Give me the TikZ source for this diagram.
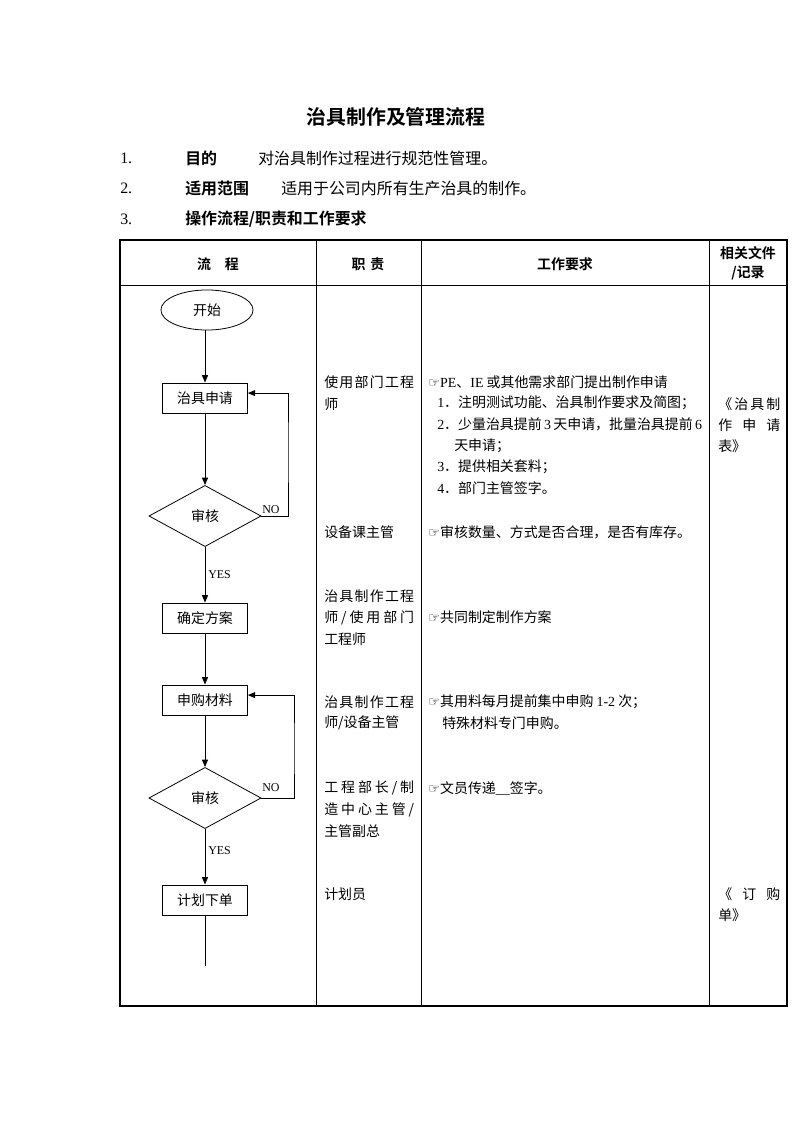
\documentclass[tikz,border=0pt]{standalone}
\usepackage{fontspec}
\setmainfont{Noto Sans CJK SC}[BoldFont={Noto Sans CJK SC Bold}]
\newfontfamily\lat{Liberation Serif}
\newfontfamily\sym{DejaVu Sans}
\usetikzlibrary{arrows.meta,shapes.geometric,positioning}

\newcommand\hand{{\sym\fontsize{10pt}{10pt}\selectfont ☞}}
\newcommand\fillto[2]{\makebox[#1][s]{#2}}

\begin{document}
\begin{tikzpicture}[x=0.2648mm,y=-0.2648mm,
    font=\fontsize{10.5pt}{13pt}\selectfont,
    txt/.style={anchor=west,inner sep=0pt},
    head/.style={inner sep=0pt,font=\fontsize{10.5pt}{13pt}\selectfont\bfseries},
    yesno/.style={anchor=west,inner sep=0pt,font=\lat\fontsize{9pt}{10pt}\selectfont},
    flow/.style={-{Triangle[length=5.5pt,width=4.5pt]}}]
  \useasboundingbox (0,0) rectangle (793,1122);

  % title and items
  \node[inner sep=0pt,font=\fontsize{15pt}{17pt}\selectfont\bfseries] (title) at (396,117) {治具制作及管理流程};
  \begin{scope}[every node/.style={txt,font=\fontsize{12pt}{14pt}\selectfont}]
    \node (n1) at (120,158) {\lat 1.};
    \node (k1) at (185,158) {\bfseries 目的};
    \node (t1) at (258,158) {对治具制作过程进行规范性管理。};
    \node (n2) at (120,188) {\lat 2.};
    \node (k2) at (185,188) {\bfseries 适用范围};
    \node (t2) at (281,188) {适用于公司内所有生产治具的制作。};
    \node (n3) at (120,219) {\lat 3.};
    \node (k3) at (185,219) {\bfseries 操作流程/职责和工作要求};
  \end{scope}

  % table
  \draw[line width=0.8pt] (120,240) rectangle (787,1006);
  \draw[line width=0.6pt] (120,285) -- (787,285);
  \foreach \x in {316,421,709}
    \draw[line width=0.6pt] (\x,240) -- (\x,1006);

  \node[head] (h1) at (218,264) {流\quad 程};
  \node[head] (h2) at (368,264) {职\,\,责};
  \node[head] (h3) at (565,264) {工作要求};
  \node[head] (h4) at (748,253) {相关文件};
  \node[head] (h5) at (748,273) {/记录};

  % flow chart
  \begin{scope}[every node/.style={draw,line width=0.6pt}]
    \node (start)[ellipse,minimum width=24.4mm,minimum height=10.6mm] at (207,310) {开始};
    \node (apply)[minimum width=22.5mm,minimum height=8mm] at (205,398) {治具申请};
    \node (check1)[diamond,minimum width=29.7mm,minimum height=16.2mm,inner sep=0pt] at (205,516) {审核};
    \node (plan)[minimum width=22.5mm,minimum height=8mm] at (205,618) {确定方案};
    \node (buy)[minimum width=22.5mm,minimum height=8mm] at (205,700) {申购材料};
    \node (check2)[diamond,minimum width=29.7mm,minimum height=16.2mm,inner sep=0pt] at (205,798) {审核};
    \node (order)[minimum width=22.5mm,minimum height=8mm] at (205,900) {计划下单};
  \end{scope}
  \coordinate (loop1) at (288,450);
  \coordinate (loop2) at (294,750);
  \coordinate (tail) at (205,966);

  \begin{scope}[line width=0.6pt]
    \draw[flow] (start.south -| apply.north) -- (apply);
    \draw[flow] (apply) -- (check1);
    \draw[flow] (check1) -- (plan);
    \draw[flow] (check1.east) -| (loop1) |- ([yshift=1.3mm]apply.east);
    \draw[flow] (plan) -- (buy);
    \draw[flow] (buy) -- (check2);
    \draw[flow] (check2) -- (order);
    \draw[flow] (check2.east) -| (loop2) |- ([yshift=1.3mm]buy.east);
    \draw (order) -- (tail);
  \end{scope}
  \node[yesno] (no1) at (262,510) {NO};
  \node[yesno] (yes1) at (208,575) {YES};
  \node[yesno] (no2) at (262,788) {NO};
  \node[yesno] (yes2) at (208,851) {YES};

  % duties
  \node[txt] (r1a) at (324,382) {\fillto{23.8mm}{使\hfill 用\hfill 部\hfill 门\hfill 工\hfill 程}};
  \node[txt] (r1b) at (324,404) {师};
  \node[txt] (r2) at (324,532) {设备课主管};
  \node[txt] (r3a) at (324,596) {\fillto{23.8mm}{治\hfill 具\hfill 制\hfill 作\hfill 工\hfill 程}};
  \node[txt] (r3b) at (324,618) {\fillto{23.8mm}{师\hfill /\hfill 使\hfill 用\hfill 部\hfill 门}};
  \node[txt] (r3c) at (324,639) {工程师};
  \node[txt] (r4a) at (324,702) {\fillto{23.8mm}{治\hfill 具\hfill 制\hfill 作\hfill 工\hfill 程}};
  \node[txt] (r4b) at (324,723) {师/设备主管};
  \node[txt] (r5a) at (324,788) {\fillto{23.8mm}{工\hfill 程\hfill 部\hfill 长\hfill /\hfill 制}};
  \node[txt] (r5b) at (324,810) {\fillto{23.8mm}{造\hfill 中\hfill 心\hfill 主\hfill 管\hfill /}};
  \node[txt] (r5c) at (324,831) {主管副总};
  \node[txt] (r6) at (324,894) {计划员};

  % work requirements
  \node[txt] (w1) at (428,382) {\hand{\lat PE}、{\lat IE} 或其他需求部门提出制作申请};
  \node[txt] (w1a) at (437,403) {{\lat 1}．注明测试功能、治具制作要求及简图；};
  \node[txt] (w1b) at (437,424) {{\lat 2}．少量治具提前\,{\lat 3}\,天申请，批量治具提前\,{\lat 6}};
  \node[txt] (w1c) at (454,446) {天申请；};
  \node[txt] (w1d) at (437,467) {{\lat 3}．提供相关套料；};
  \node[txt] (w1e) at (437,488) {{\lat 4}．部门主管签字。};
  \node[txt] (w2) at (428,532) {\hand 审核数量、方式是否合理，是否有库存。};
  \node[txt] (w3) at (428,617) {\hand 共同制定制作方案};
  \node[txt] (w4a) at (428,702) {\hand 其用料每月提前集中申购 {\lat 1-2} 次；};
  \node[txt] (w4b) at (442,723) {特殊材料专门申购。};
  \node[txt] (w5) at (428,788) {\hand 文员传递{\lat\_\_}签字。};

  % records
  \node[txt] (d1a) at (718,404) {\fillto{16.4mm}{《\hfill 治\hfill 具\hfill 制}};
  \node[txt] (d1b) at (718,425) {\fillto{16.4mm}{作\hfill 申\hfill 请}};
  \node[txt] (d1c) at (718,446) {表》};
  \node[txt] (d2a) at (718,894) {\fillto{16.4mm}{《\hfill 订\hfill 购}};
  \node[txt] (d2b) at (718,915) {单》};
\end{tikzpicture}
\end{document}
